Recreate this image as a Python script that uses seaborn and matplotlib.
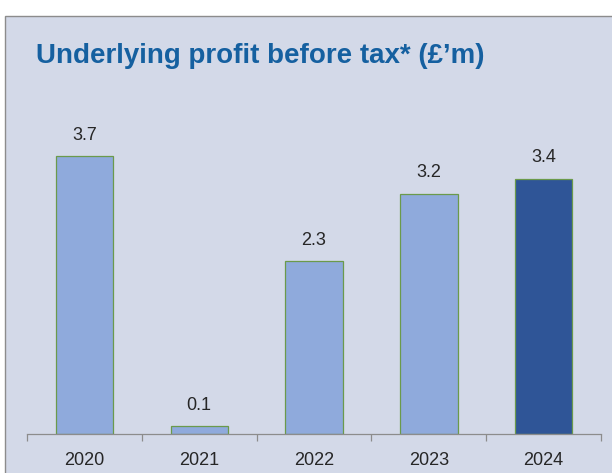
import matplotlib
matplotlib.use("Agg")
import matplotlib.pyplot as plt
import seaborn as sns
from matplotlib.patches import Rectangle

# data
years = ["2020", "2021", "2022", "2023", "2024"]
profit = [3.7, 0.1, 2.3, 3.2, 3.4]
bar_colors = ["#8FAADC", "#8FAADC", "#8FAADC", "#8FAADC", "#2F5597"]

sns.set_style("white")
plt.rcParams["font.family"] = ["Liberation Sans", "DejaVu Sans"]

bg = "#D3D9E8"
fig = plt.figure(figsize=(6.12, 4.73), dpi=100)
fig.patch.set_facecolor("white")

# panel with grey border (top + left)
fig.patches.append(Rectangle((5 / 612, -0.01), 1.0, 1 - 16 / 473 + 0.01,
                             transform=fig.transFigure, facecolor=bg,
                             edgecolor="#8C8C8C", linewidth=1.0, zorder=-5))

ax = fig.add_axes([27 / 612, 1 - 434 / 473, 574 / 612, 334 / 473])
ax.set_facecolor("none")
ax.set_zorder(2)

sns.barplot(x=years, y=profit, hue=years, palette=bar_colors, legend=False,
            saturation=1, width=0.5, edgecolor="#6B9A4B", linewidth=0.9, ax=ax)

ax.set_ylim(0, 4.45)
ax.set_xlim(-0.5, 4.5)
for s in ["top", "right", "left"]:
    ax.spines[s].set_visible(False)
ax.spines["bottom"].set_color("#8C8C8C")
ax.spines["bottom"].set_linewidth(0.9)
ax.set_yticks([])
ax.set_xlabel("")
ax.set_ylabel("")

# ticks at category boundaries, labels centered
ax.set_xticks([i - 0.5 for i in range(len(years) + 1)], minor=False)
ax.set_xticklabels([""] * (len(years) + 1))
ax.tick_params(axis="x", which="major", bottom=True, length=5,
               color="#8C8C8C", width=0.9)
ax.set_xticks(range(len(years)), minor=True)
ax.set_xticklabels(years, minor=True)
ax.tick_params(axis="x", which="minor", bottom=True, length=0, labelsize=13,
               labelcolor="#262626", pad=13)

for c in ax.containers:
    ax.bar_label(c, labels=[f"{v:.1f}" for v in c.datavalues], padding=9,
                 fontsize=13, color="#262626")

fig.text(36 / 612, 1 - 63 / 473, "Underlying profit before tax* (£\u2019m)",
         fontsize=20, fontweight="bold", color="#1560A0", va="baseline", ha="left")

fig.savefig("out.png", dpi=100, facecolor=fig.get_facecolor())
